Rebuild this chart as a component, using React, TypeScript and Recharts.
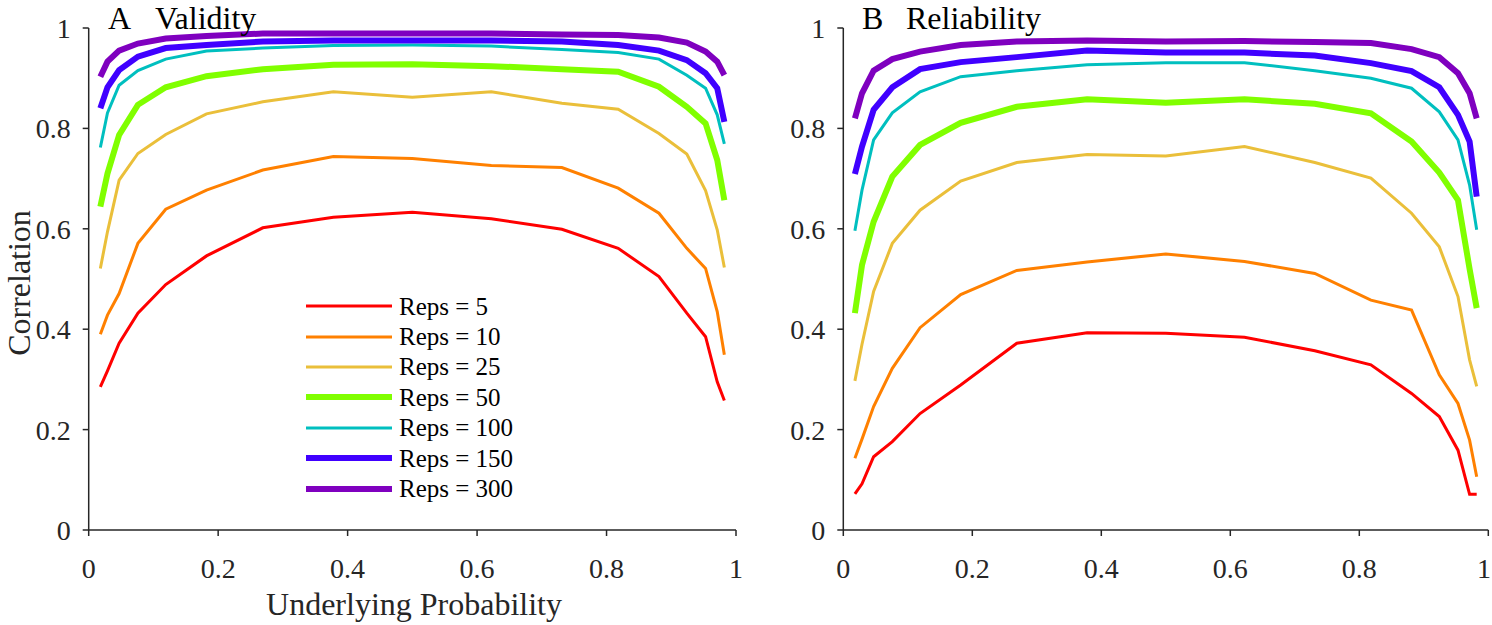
import React from 'react';
import { LineChart, Line, XAxis, YAxis } from 'recharts';

// underlying probabilities sampled by the simulation
const probs = [0.018, 0.029, 0.047, 0.076, 0.119, 0.182, 0.269, 0.378, 0.5, 0.622, 0.731, 0.818, 0.881, 0.924, 0.953, 0.971, 0.982];

// panel A: validity
const valid5 = [0.285, 0.317, 0.372, 0.432, 0.489, 0.546, 0.602, 0.623, 0.633, 0.62, 0.599, 0.561, 0.505, 0.432, 0.385, 0.295, 0.258];
const valid10 = [0.39, 0.428, 0.471, 0.571, 0.639, 0.677, 0.717, 0.744, 0.74, 0.726, 0.722, 0.681, 0.631, 0.561, 0.521, 0.435, 0.349];
const valid25 = [0.521, 0.594, 0.697, 0.75, 0.788, 0.829, 0.853, 0.873, 0.862, 0.873, 0.85, 0.838, 0.79, 0.749, 0.676, 0.598, 0.523];
const valid50 = [0.644, 0.71, 0.787, 0.847, 0.882, 0.904, 0.918, 0.927, 0.928, 0.924, 0.918, 0.913, 0.883, 0.843, 0.81, 0.737, 0.657];
const valid100 = [0.762, 0.831, 0.886, 0.915, 0.938, 0.954, 0.96, 0.965, 0.966, 0.964, 0.957, 0.951, 0.938, 0.906, 0.88, 0.827, 0.769];
const valid150 = [0.84, 0.882, 0.916, 0.943, 0.96, 0.966, 0.973, 0.975, 0.975, 0.975, 0.973, 0.966, 0.955, 0.936, 0.91, 0.88, 0.813];
const valid300 = [0.903, 0.933, 0.955, 0.969, 0.979, 0.984, 0.989, 0.989, 0.989, 0.989, 0.987, 0.986, 0.981, 0.971, 0.953, 0.933, 0.906];

// panel B: reliability
const rel5 = [0.072, 0.092, 0.146, 0.176, 0.232, 0.289, 0.372, 0.393, 0.392, 0.384, 0.357, 0.329, 0.272, 0.226, 0.159, 0.071, 0.071];
const rel10 = [0.143, 0.181, 0.246, 0.322, 0.403, 0.469, 0.517, 0.534, 0.55, 0.535, 0.511, 0.458, 0.438, 0.309, 0.252, 0.179, 0.106];
const rel25 = [0.297, 0.37, 0.475, 0.571, 0.637, 0.695, 0.732, 0.748, 0.745, 0.764, 0.732, 0.701, 0.631, 0.564, 0.465, 0.339, 0.286];
const rel50 = [0.432, 0.528, 0.614, 0.704, 0.767, 0.811, 0.843, 0.858, 0.851, 0.858, 0.849, 0.83, 0.774, 0.712, 0.657, 0.52, 0.442];
const rel100 = [0.596, 0.677, 0.777, 0.831, 0.873, 0.903, 0.915, 0.927, 0.931, 0.931, 0.915, 0.9, 0.88, 0.833, 0.777, 0.687, 0.598];
const rel150 = [0.709, 0.764, 0.837, 0.882, 0.918, 0.932, 0.942, 0.955, 0.951, 0.951, 0.945, 0.93, 0.914, 0.882, 0.827, 0.774, 0.664];
const rel300 = [0.82, 0.87, 0.915, 0.938, 0.953, 0.966, 0.973, 0.975, 0.973, 0.974, 0.972, 0.97, 0.958, 0.942, 0.91, 0.87, 0.82];

const xTicks = [0, 0.2, 0.4, 0.6, 0.8, 1];
const yTicks = [0, 0.2, 0.4, 0.6, 0.8, 1];

const SERIES = [
    { key: 'r5', name: 'Reps = 5', color: '#ff0000', width: 3 },
    { key: 'r10', name: 'Reps = 10', color: '#ff8000', width: 3 },
    { key: 'r25', name: 'Reps = 25', color: '#eabf3a', width: 3 },
    { key: 'r50', name: 'Reps = 50', color: '#80ff00', width: 6 },
    { key: 'r100', name: 'Reps = 100', color: '#00bfbf', width: 3 },
    { key: 'r150', name: 'Reps = 150', color: '#4000ff', width: 6 },
    { key: 'r300', name: 'Reps = 300', color: '#7f00bf', width: 6 },
];

const FONT = '"Liberation Serif", "Times New Roman", serif';
const AXIS = '#262626';

function buildRows(cols: number[][]) {
    return probs.map((p, i) => {
        const row: Record<string, number> = { p };
        SERIES.forEach((s, j) => {
            row[s.key] = cols[j][i];
        });
        return row;
    });
}

const validityData = buildRows([valid5, valid10, valid25, valid50, valid100, valid150, valid300]);
const reliabilityData = buildRows([rel5, rel10, rel25, rel50, rel100, rel150, rel300]);

// x tick label; maxX keeps the last label inside the picture
function XTick({ x, y, payload, maxX }: { x?: number; y?: number; payload?: { value: number }; maxX: number }) {
    return (
        <text
            x={Math.min(x ?? 0, maxX)}
            y={y}
            dy="0.71em"
            textAnchor="middle"
            fill={AXIS}
            fontSize={28}
            fontFamily={FONT}
        >
            {payload?.value}
        </text>
    );
}

interface PanelProps {
    data: Record<string, number>[];
    left: number;
    width: number;
    marginLeft: number;
    marginRight: number;
    maxTickX: number;
}

function Panel({ data, left, width, marginLeft, marginRight, maxTickX }: PanelProps) {
    return (
        <div style={{ position: 'absolute', left, top: 0 }}>
            <LineChart
                width={width}
                height={625}
                data={data}
                margin={{ top: 28, right: marginRight, bottom: 0, left: marginLeft }}
            >
                <XAxis
                    dataKey="p"
                    type="number"
                    domain={[0, 1]}
                    ticks={xTicks}
                    height={95}
                    tick={(props: any) => <XTick {...props} maxX={maxTickX} />}
                    tickSize={6}
                    tickMargin={22}
                    axisLine={{ stroke: AXIS, strokeWidth: 1.5 }}
                    tickLine={{ stroke: AXIS, strokeWidth: 1.5 }}
                />
                <YAxis
                    type="number"
                    domain={[0, 1]}
                    ticks={yTicks}
                    width={60}
                    tick={{ fill: AXIS, fontSize: 28, fontFamily: FONT }}
                    tickSize={6}
                    tickMargin={12}
                    axisLine={{ stroke: AXIS, strokeWidth: 1.5 }}
                    tickLine={{ stroke: AXIS, strokeWidth: 1.5 }}
                />
                {SERIES.map((s) => (
                    <Line
                        key={s.key}
                        dataKey={s.key}
                        name={s.name}
                        stroke={s.color}
                        strokeWidth={s.width}
                        dot={false}
                        activeDot={false}
                        isAnimationActive={false}
                    />
                ))}
            </LineChart>
        </div>
    );
}

function LegendBox() {
    return (
        <div style={{ position: 'absolute', left: 306, top: 291, fontFamily: FONT, fontSize: 25, color: '#000' }}>
            {SERIES.map((s) => (
                <div key={s.key} style={{ height: 30.4, display: 'flex', alignItems: 'center' }}>
                    <svg width={86} height={12} style={{ marginRight: 7 }}>
                        <line x1={0} x2={86} y1={6} y2={6} stroke={s.color} strokeWidth={s.width} />
                    </svg>
                    <span style={{ lineHeight: 1 }}>{s.name}</span>
                </div>
            ))}
        </div>
    );
}

export default function App() {
    return (
        <div
            style={{
                position: 'absolute',
                left: 0,
                top: 0,
                width: 1492,
                height: 625,
                overflow: 'hidden',
                background: '#fff',
            }}
        >
            <Panel data={validityData} left={0} width={760} marginLeft={28.7} marginRight={24} maxTickX={9999} />
            <Panel data={reliabilityData} left={760} width={740} marginLeft={23.3} marginRight={11.7} maxTickX={724} />
            <svg
                width={1492}
                height={625}
                style={{ position: 'absolute', left: 0, top: 0, pointerEvents: 'none' }}
            >
                <g fontFamily={FONT} fontSize={32} fill="#000">
                    <text x={108} y={28.5}>A</text>
                    <text x={155} y={28.5}>Validity</text>
                    <text x={862} y={28.5}>B</text>
                    <text x={906} y={28.5}>Reliability</text>
                </g>
                <text x={414} y={615} fontFamily={FONT} fontSize={32} fill={AXIS} textAnchor="middle">
                    Underlying Probability
                </text>
                <text
                    x={29.5}
                    y={283}
                    fontFamily={FONT}
                    fontSize={32}
                    fill={AXIS}
                    textAnchor="middle"
                    transform="rotate(-90 29.5 283)"
                >
                    Correlation
                </text>
            </svg>
            <LegendBox />
        </div>
    );
}
